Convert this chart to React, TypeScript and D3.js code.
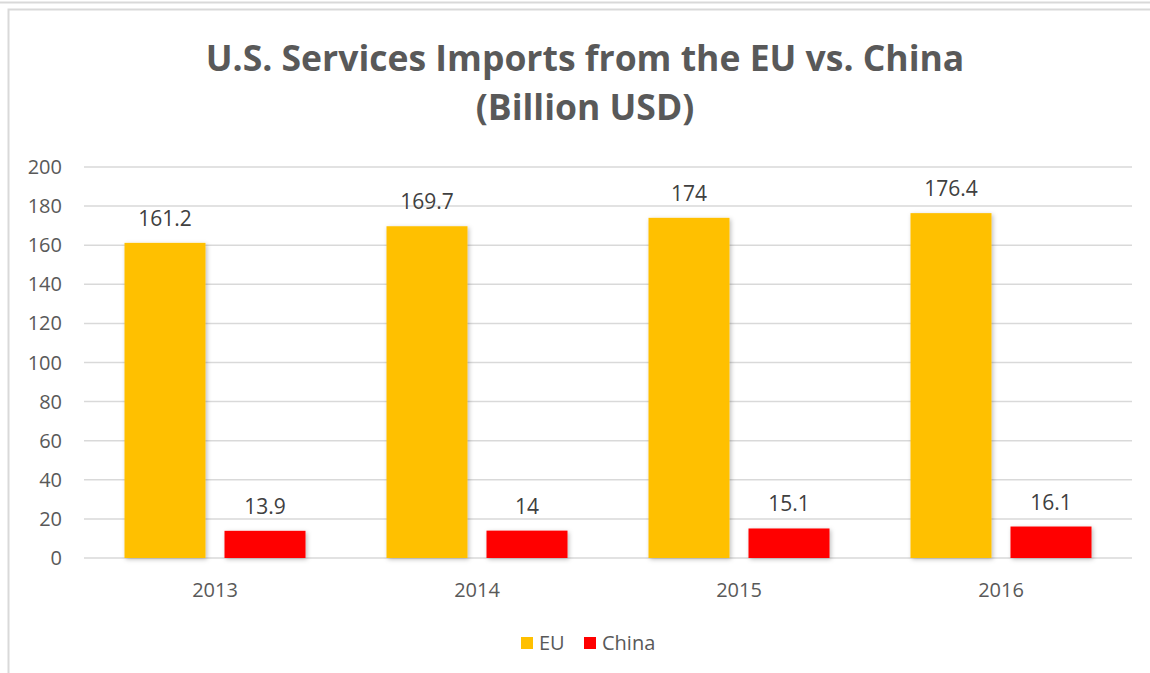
import React from "react";
import * as d3 from "d3";

const categories = ["2013", "2014", "2015", "2016"];
const seriesNames = ["EU", "China"];
const euValues = [161.2, 169.7, 174, 176.4];
const chinaValues = [13.9, 14, 15.1, 16.1];
const yTicks = [0, 20, 40, 60, 80, 100, 120, 140, 160, 180, 200];
const colors = ["#FFC000", "#FF0000"];

const W = 1150;
const H = 673;
const FONT = "'Open Sans', 'Liberation Sans', sans-serif";

export default function App() {
  const left = 84, right = 1132, top = 167, bottom = 558;
  const x0 = d3.scaleBand<string>().domain(categories).range([left, right]).paddingInner(0).paddingOuter(0);
  const x1 = d3.scaleBand<string>().domain(seriesNames).range([40.5, x0.bandwidth() - 40.5]).paddingInner(0.19).paddingOuter(0);
  const y = d3.scaleLinear().domain([0, 200]).range([bottom, top]);
  const series = [euValues, chinaValues];

  return (
    <div style={{ position: "absolute", left: 0, top: 0, width: W, height: H, background: "#fff" }}>
      <svg width={W} height={H} style={{ display: "block" }}>
        <defs>
          <filter id="sh" x="-20%" y="-20%" width="140%" height="140%">
            <feDropShadow dx="1.5" dy="1.5" stdDeviation="2" floodColor="#000" floodOpacity="0.25" />
          </filter>
        </defs>
        <line x1={0} x2={W} y1={2.5} y2={2.5} stroke="#d9d9d9" strokeWidth={2} />
        <rect x={8.5} y={9.5} width={W + 10} height={H + 10} fill="#fff" stroke="#d9d9d9" strokeWidth={2} />
        <text x={585} y={71} textAnchor="middle" fontFamily={FONT} fontWeight="bold" fontSize={35.5} fill="#595959">
          U.S. Services Imports from the EU vs. China
        </text>
        <text x={585} y={120} textAnchor="middle" fontFamily={FONT} fontWeight="bold" fontSize={35.5} fill="#595959">
          (Billion USD)
        </text>
        {yTicks.map((t) => (
          <g key={t}>
            <line x1={left} x2={right} y1={y(t)} y2={y(t)} stroke="#d9d9d9" strokeWidth={1.5} />
            <text x={62} y={y(t) + 7} textAnchor="end" fontFamily={FONT} fontSize={20} fill="#595959">
              {t}
            </text>
          </g>
        ))}
        {categories.map((c, i) => (
          <g key={c}>
            {seriesNames.map((s, j) => {
              const v = series[j][i];
              const bx = (x0(c) as number) + (x1(s) as number);
              return (
                <g key={s}>
                  <rect x={bx} y={y(v)} width={x1.bandwidth()} height={y(0) - y(v)} fill={colors[j]} filter="url(#sh)" />
                  <text x={bx + x1.bandwidth() / 2} y={y(v) - 17} textAnchor="middle" fontFamily={FONT} fontSize={21} fill="#404040">
                    {v}
                  </text>
                </g>
              );
            })}
            <text x={(x0(c) as number) + x0.bandwidth() / 2} y={597} textAnchor="middle" fontFamily={FONT} fontSize={20} fill="#595959">
              {c}
            </text>
          </g>
        ))}
        <g>
          <rect x={521} y={637} width={12} height={12} fill={colors[0]} />
          <text x={539} y={650} fontFamily={FONT} fontSize={20} fill="#595959">EU</text>
          <rect x={584} y={637} width={12} height={12} fill={colors[1]} />
          <text x={602} y={650} fontFamily={FONT} fontSize={20} fill="#595959">China</text>
        </g>
      </svg>
    </div>
  );
}
